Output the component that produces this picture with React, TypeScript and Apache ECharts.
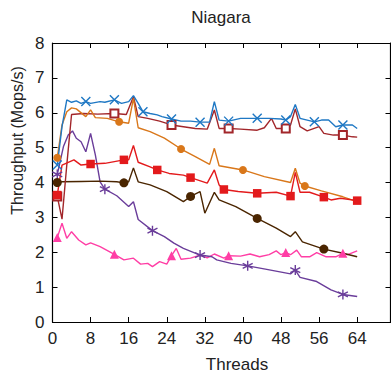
import React, { useEffect, useRef } from "react";
import * as echarts from "echarts";

const title = "Niagara";
const xTitle = "Threads";
const yTitle = "Throughput (Mops/s)";
const xTicks = [0, 8, 16, 24, 32, 40, 48, 56, 64];

const blueX = [1, 2, 3, 4, 5, 6, 7, 8, 10, 11, 13, 14.5, 16, 17, 18, 19, 20.5, 22, 23, 25, 27, 29, 31, 33, 34, 35, 37, 39.5, 43, 45.5, 48, 49, 50, 51, 52, 55, 56.5, 58, 59.5, 61, 63, 64];
const blueY = [4.5, 5.6, 6.37, 6.3, 6.34, 6.27, 6.32, 6.27, 6.32, 6.3, 6.37, 6.27, 6.32, 6.49, 6.27, 6.03, 5.98, 5.94, 5.89, 5.82, 5.76, 5.76, 5.73, 5.73, 6.32, 5.79, 5.76, 5.84, 5.84, 5.84, 5.82, 5.79, 5.89, 6.24, 5.84, 5.74, 5.79, 5.79, 5.6, 5.65, 5.65, 5.55];
const blueMarks = [1, 7, 13, 19, 25, 31, 37, 43, 49, 55, 61];

const darkRedX = [1, 2, 3, 4, 6.5, 9.5, 13, 15.5, 17, 18, 20, 22.5, 25, 27.5, 30, 32.5, 34, 35, 37, 39.5, 43, 44.5, 46, 47, 49, 50, 51, 52, 53.5, 56, 57, 59, 61, 63, 64];
const darkRedY = [3.6, 2.95, 4.5, 5.95, 5.98, 5.96, 5.98, 5.95, 6.46, 5.89, 5.84, 5.76, 5.65, 5.6, 5.55, 5.53, 6.08, 5.55, 5.55, 5.53, 5.5, 5.57, 5.84, 5.55, 5.55, 5.65, 6.11, 5.6, 5.48, 5.6, 5.41, 5.36, 5.36, 5.31, 5.3];
const darkRedMarks = [1, 13, 25, 37, 49, 61];

const orangeX = [1, 2, 3, 4, 5, 7, 8, 9, 11.5, 14, 16, 17, 18, 20.5, 23.5, 27, 30, 33, 34, 35, 40, 44.5, 50, 51, 52, 53, 56.5, 61, 64];
const orangeY = [4.71, 5.65, 6.03, 6.14, 6.11, 5.89, 6.08, 5.86, 5.84, 5.74, 5.7, 6.41, 5.57, 5.46, 5.27, 4.96, 4.74, 4.52, 4.98, 4.48, 4.36, 4.17, 4.0, 4.41, 3.98, 3.9, 3.76, 3.59, 3.45];
const orangeMarks = [1, 14, 27, 40, 53];

const redX = [1, 2, 4.5, 6, 8, 11, 15, 16, 17, 18, 20.5, 22, 24.5, 27.5, 29, 32.5, 34, 35, 36, 39, 43, 47, 50, 51, 52, 54, 57, 58.5, 60.5, 64];
const redY = [3.64, 4.5, 4.65, 4.5, 4.53, 4.55, 4.65, 4.65, 5.06, 4.58, 4.45, 4.36, 4.26, 4.21, 4.14, 3.98, 4.36, 3.93, 3.8, 3.74, 3.69, 3.72, 3.61, 4.29, 3.72, 3.72, 3.58, 3.5, 3.55, 3.48];
const redMarks = [1, 8, 15, 22, 29, 36, 43, 50, 57, 64];

const brownX = [1, 2, 6, 10, 13.5, 15, 16, 17, 18, 20.5, 24, 27.5, 29, 31, 32, 34, 35, 38.5, 43, 47, 50, 51, 52.5, 57, 61, 64];
const brownY = [4.0, 4.02, 4.03, 4.04, 4.02, 3.99, 4.02, 4.42, 4.02, 3.93, 3.74, 3.45, 3.6, 3.74, 3.12, 3.72, 3.5, 3.31, 2.97, 2.69, 2.45, 2.59, 2.3, 2.09, 1.97, 1.87];
const brownMarks = [1, 15, 29, 43, 57];

const purpleX = [1, 1.6, 2.3, 3.3, 4.2, 5, 6, 7, 8, 9, 10, 11, 13.5, 16, 17, 18, 21, 23.5, 25.5, 27.5, 31, 33.5, 34.5, 37.5, 41, 45, 50, 51, 52, 55.5, 58.5, 61, 64];
const purpleY = [4.23, 4.6, 5.03, 5.36, 5.48, 5.27, 5.17, 4.88, 5.41, 4.79, 4.02, 3.81, 3.62, 3.31, 3.45, 2.94, 2.62, 2.45, 2.26, 2.11, 1.92, 1.87, 1.78, 1.68, 1.61, 1.51, 1.38, 1.49, 1.28, 1.16, 0.92, 0.79, 0.73];
const purpleMarks = [1, 11, 21, 31, 41, 51, 61];

const pinkX = [1, 2, 3, 4, 5.5, 7, 8, 10, 13, 15, 17, 18.5, 20, 21, 22.5, 24, 25, 26, 27, 29, 31, 32.5, 34, 36, 37, 39.5, 41.5, 43.5, 45.5, 47, 48, 49, 50, 51.3, 52.3, 54, 55.5, 57.5, 59.5, 61, 62, 64];
const pinkY = [2.42, 2.83, 2.4, 2.59, 2.35, 2.21, 2.27, 2.16, 1.94, 1.78, 1.83, 1.66, 1.68, 1.59, 1.73, 1.66, 1.9, 2.11, 1.8, 1.83, 1.92, 1.84, 1.95, 1.83, 1.9, 1.89, 1.95, 1.87, 1.93, 2.04, 1.93, 1.99, 1.93, 2.06, 1.87, 1.87, 1.99, 1.87, 1.87, 1.97, 1.93, 2.04];
const pinkMarks = [1, 13, 25, 37, 49, 61];

const FONT = "'Liberation Sans', Arial, sans-serif";
const CROSS = "path://M-1,-1L1,1M-1,1L1,-1";
const STAR = "path://M0,-1L0,1M-0.87,-0.5L0.87,0.5M-0.87,0.5L0.87,-0.5";

function mk(name: string, xs: number[], ys: number[], marks: number[], color: string, symbol: string, size: number, stroke: boolean) {
  return {
    type: "line",
    name,
    data: xs.map((x, i) => [x, ys[i]]),
    symbol,
    showSymbol: true,
    symbolSize: (v: number[]) => (marks.includes(v[0]) ? size : 0),
    lineStyle: { color, width: 1.4 },
    itemStyle: stroke
      ? { color, borderColor: color, borderWidth: 1.4 }
      : { color, borderWidth: 0 },
    emphasis: { disabled: true },
    z: 2,
  };
}

export default function App() {
  const ref = useRef<HTMLDivElement>(null);
  useEffect(() => {
    const chart = echarts.init(ref.current!, null, { renderer: "svg" });
    const axisLine = { show: true, onZero: false, lineStyle: { color: "#000", width: 1.2 } };
    const tick = { show: true, inside: true, length: 5, lineStyle: { color: "#000", width: 1 } };
    chart.setOption({
      animation: false,
      grid: { left: 52.5, right: 0.5, top: 43, bottom: 51, containLabel: false },
      xAxis: [
        {
          type: "value", min: 0, max: 71, interval: 8, position: "bottom",
          axisLine, axisTick: tick, splitLine: { show: false },
          axisLabel: {
            show: true, margin: 8, fontSize: 17, color: "#222", fontFamily: FONT,
            showMaxLabel: false,
            formatter: (v: number) => (xTicks.includes(v) ? String(v) : ""),
          },
        },
        {
          type: "value", min: 0, max: 71, interval: 8, position: "top",
          axisLine, axisTick: tick, splitLine: { show: false }, axisLabel: { show: false },
        },
      ],
      yAxis: [
        {
          type: "value", min: 0, max: 8, interval: 1, position: "left",
          axisLine, axisTick: tick, splitLine: { show: false },
          axisLabel: { show: true, margin: 8, fontSize: 17, color: "#222", fontFamily: FONT },
        },
        {
          type: "value", min: 0, max: 8, interval: 1, position: "right",
          axisLine, axisTick: tick, splitLine: { show: false }, axisLabel: { show: false },
        },
      ],
      graphic: [
        { type: "text", x: 221, y: 17, style: { text: title, fontSize: 17, fontFamily: FONT, fill: "#222", align: "center", verticalAlign: "middle" } },
        { type: "text", x: 237, y: 364, style: { text: xTitle, fontSize: 17, fontFamily: FONT, fill: "#222", align: "center", verticalAlign: "middle" } },
        { type: "text", x: 17, y: 140.5, rotation: Math.PI / 2, style: { text: yTitle, fontSize: 16, fontFamily: FONT, fill: "#222", align: "center", verticalAlign: "middle" } },
      ],
      series: [
        mk("pink", pinkX, pinkY, pinkMarks, "#ff3ea5", "triangle", 9, false),
        mk("purple", purpleX, purpleY, purpleMarks, "#6a3d9a", STAR, 10, true),
        mk("brown", brownX, brownY, brownMarks, "#4a2500", "circle", 9, false),
        mk("darkred", darkRedX, darkRedY, darkRedMarks, "#a2262a", "emptyRect", 8, true),
        mk("orange", orangeX, orangeY, orangeMarks, "#d9771a", "circle", 8, false),
        mk("red", redX, redY, redMarks, "#e31a1c", "rect", 8.5, false),
        mk("blue", blueX, blueY, blueMarks, "#1f78c4", CROSS, 9, true),
      ],
    });
    return () => chart.dispose();
  }, []);
  return <div ref={ref} style={{ position: "absolute", left: 0, top: 0, width: 391, height: 373 }} />;
}
